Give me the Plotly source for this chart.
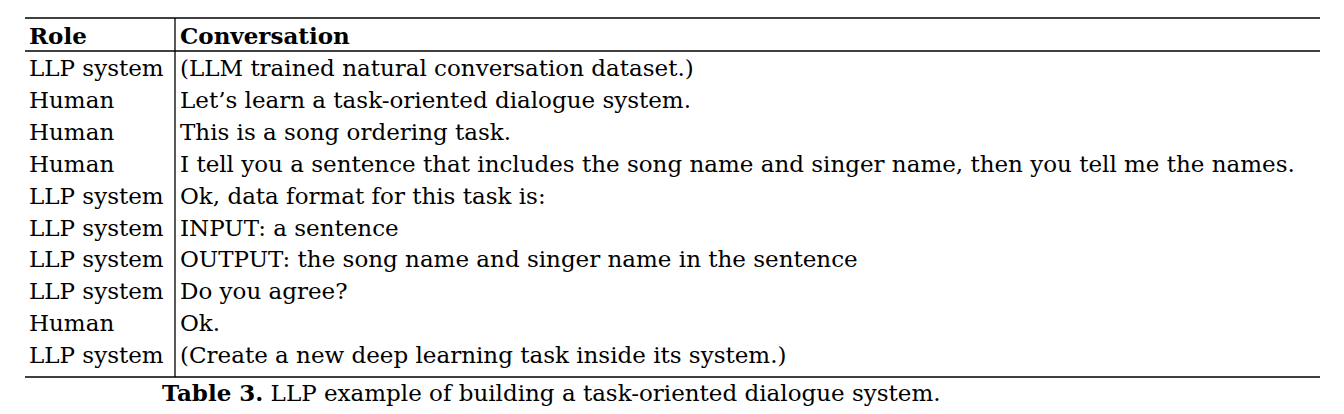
import plotly.graph_objects as go

header = ["Role", "Conversation"]
roles = ["LLP system", "Human", "Human", "Human", "LLP system", "LLP system",
         "LLP system", "LLP system", "Human", "LLP system"]
turns = [
    "(LLM trained natural conversation dataset.)",
    "Let\u2019s learn a task-oriented dialogue system.",
    "This is a song ordering task.",
    "I tell you a sentence that includes the song name and singer name, then you tell me the names.",
    "Ok, data format for this task is:",
    "INPUT: a sentence",
    "OUTPUT: the song name and singer name in the sentence",
    "Do you agree?",
    "Ok.",
    "(Create a new deep learning task inside its system.)",
]
caption_bold = "Table 3."
caption = " LLP example of building a task-oriented dialogue system."

W, H = 1344, 414
OFF = 8  # page body margin
FONT = "DejaVu Serif"
SIZE = 23
x_role, x_conv = 27 - OFF, 178 - OFF
y_head, y0, dy = 35 - OFF, 68 - OFF, 31.9

fig = go.Figure()
ann = []
ann.append(dict(x=x_role, y=y_head, text="<b>%s</b>" % header[0]))
ann.append(dict(x=x_conv, y=y_head, text="<b>%s</b>" % header[1]))
for i, (r, t) in enumerate(zip(roles, turns)):
    y = y0 + i * dy
    ann.append(dict(x=x_role, y=y, text=r))
    ann.append(dict(x=x_conv, y=y, text=t))
ann.append(dict(x=160 - OFF, y=392 - OFF, text="<b>%s</b>%s" % (caption_bold, caption)))
for a in ann:
    a.update(xref="x", yref="y", xanchor="left", yanchor="middle", showarrow=False,
             font=dict(family=FONT, size=SIZE, color="black"))

line = dict(color="black", width=1.3)
shapes = [
    dict(type="line", x0=25 - OFF, x1=1320 - OFF, y0=18 - OFF, y1=18 - OFF, line=line),
    dict(type="line", x0=25 - OFF, x1=1320 - OFF, y0=51 - OFF, y1=51 - OFF, line=line),
    dict(type="line", x0=25 - OFF, x1=1320 - OFF, y0=377 - OFF, y1=377 - OFF, line=line),
    dict(type="line", x0=175 - OFF, x1=175 - OFF, y0=18 - OFF, y1=377 - OFF, line=line),
]
for s in shapes:
    s.update(xref="x", yref="y")

fig.update_layout(
    width=W, height=H, margin=dict(l=0, r=0, t=0, b=0),
    paper_bgcolor="white", plot_bgcolor="white",
    xaxis=dict(range=[0, W], visible=False, fixedrange=True),
    yaxis=dict(range=[H, 0], visible=False, fixedrange=True),
    annotations=ann, shapes=shapes, showlegend=False,
)
fig.write_html("out.html")
